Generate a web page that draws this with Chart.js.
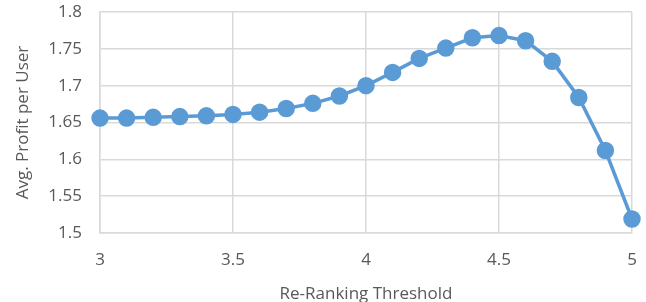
<!DOCTYPE html>
<html>
<head>
<meta charset="utf-8">
<script src="https://cdn.jsdelivr.net/npm/chart.js@4/dist/chart.umd.min.js"></script>
<style>
  html, body { margin: 0; padding: 0; background: #fff; }
  #wrap { width: 646px; height: 302px; }
</style>
</head>
<body>
<div id="wrap"><canvas id="line"></canvas></div>
<script>
// data
const thresholds = [3, 3.1, 3.2, 3.3, 3.4, 3.5, 3.6, 3.7, 3.8, 3.9, 4, 4.1, 4.2, 4.3, 4.4, 4.5, 4.6, 4.7, 4.8, 4.9, 5];
const profit = [1.656, 1.656, 1.657, 1.658, 1.659, 1.661, 1.664, 1.669, 1.676, 1.686, 1.700, 1.718, 1.737, 1.751, 1.765, 1.768, 1.761, 1.733, 1.684, 1.612, 1.519];
const yTicks = [1.5, 1.55, 1.6, 1.65, 1.7, 1.75, 1.8];

const font = "'Open Sans', 'Liberation Sans', sans-serif";
const grey = '#595959';
const plain = (v) => String(Number(v.toFixed(2)));

var linechart = document.getElementById('line');
var line = new Chart(linechart, {
  type: 'line',
  data: {
    datasets: [{
      data: thresholds.map((t, i) => ({ x: t, y: profit[i] })),
      borderColor: '#5b9bd5',
      backgroundColor: '#5b9bd5',
      borderWidth: 3.5,
      pointRadius: 7,
      pointHoverRadius: 7,
      tension: 0,
      clip: false
    }]
  },
  options: {
    responsive: true,
    maintainAspectRatio: false,
    animation: false,
    layout: { padding: { top: 12, right: 14, left: 0, bottom: 0 } },
    plugins: {
      legend: { display: false },
      tooltip: { enabled: false }
    },
    scales: {
      x: {
        type: 'linear',
        min: 3,
        max: 5,
        // fixed box so the plot bottom sits where the original does
        afterFit: (s) => { s.height = 69; s.paddingLeft = 0; s.paddingRight = 0; },
        ticks: { stepSize: 0.5, color: grey, font: { family: font, size: 17 }, padding: 17, callback: plain },
        grid: { color: '#d9d9d9', lineWidth: 1.5, drawTicks: false },
        border: { color: '#d9d9d9', width: 1.5 },
        title: { display: true, text: 'Re-Ranking Threshold', color: grey, font: { family: font, size: 17 }, padding: { top: 0, bottom: -2 } }
      },
      y: {
        min: 1.5,
        max: 1.8,
        afterBuildTicks: (axis) => { axis.ticks = yTicks.map(v => ({ value: v })); },
        afterFit: (s) => { s.width = 100; s.paddingTop = 0; s.paddingBottom = 0; },
        ticks: { color: grey, font: { family: font, size: 17 }, padding: 18, callback: plain },
        grid: { color: '#d9d9d9', lineWidth: 1.5, drawTicks: false },
        border: { color: '#d9d9d9', width: 1.5 },
        title: { display: true, text: 'Avg. Profit per User', color: grey, font: { family: font, size: 17 }, padding: { top: 13, bottom: 0 } }
      }
    }
  }
});
</script>
</body>
</html>
